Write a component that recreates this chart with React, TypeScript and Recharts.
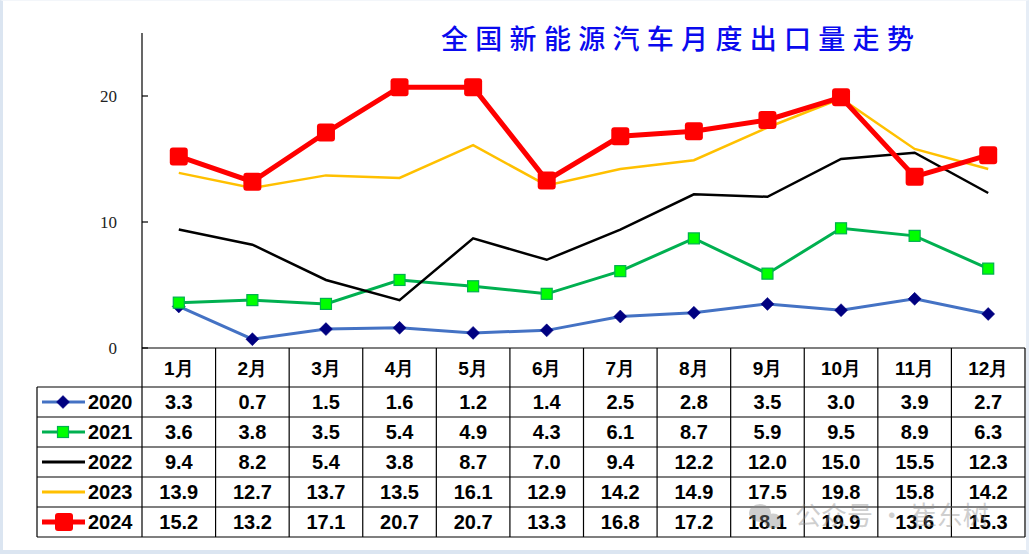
import React from 'react';
import { LineChart, Line, XAxis, YAxis } from 'recharts';

const months = ['1月', '2月', '3月', '4月', '5月', '6月', '7月', '8月', '9月', '10月', '11月', '12月'];
const y2020 = [3.3, 0.7, 1.5, 1.6, 1.2, 1.4, 2.5, 2.8, 3.5, 3.0, 3.9, 2.7];
const y2021 = [3.6, 3.8, 3.5, 5.4, 4.9, 4.3, 6.1, 8.7, 5.9, 9.5, 8.9, 6.3];
const y2022 = [9.4, 8.2, 5.4, 3.8, 8.7, 7.0, 9.4, 12.2, 12.0, 15.0, 15.5, 12.3];
const y2023 = [13.9, 12.7, 13.7, 13.5, 16.1, 12.9, 14.2, 14.9, 17.5, 19.8, 15.8, 14.2];
const y2024 = [15.2, 13.2, 17.1, 20.7, 20.7, 13.3, 16.8, 17.2, 18.1, 19.9, 13.6, 15.3];
const yTicks = [0, 10, 20];
const title = '全国新能源汽车月度出口量走势';

const seriesList = [
  { key: '2020', values: y2020, color: '#4472C4', marker: 'diamond' },
  { key: '2021', values: y2021, color: '#00B050', marker: 'square' },
  { key: '2022', values: y2022, color: '#000000', marker: 'none' },
  { key: '2023', values: y2023, color: '#FFC000', marker: 'none' },
  { key: '2024', values: y2024, color: '#FF0000', marker: 'big' },
];

const data = months.map((m, i) => ({
  month: m,
  '2020': y2020[i],
  '2021': y2021[i],
  '2022': y2022[i],
  '2023': y2023[i],
  '2024': y2024[i],
}));

const W = 1029;
const H = 554;
const PL = 142;
const PR = 1025;
const PT = 33;
const PB = 348;

const Diamond = (props: any) => {
  const { cx, cy } = props;
  if (cx == null || cy == null) return null;
  const r = 6.5;
  return <path d={`M${cx},${cy - r}L${cx + r},${cy}L${cx},${cy + r}L${cx - r},${cy}Z`} fill="#000080" stroke="#000080" strokeWidth={0.5} />;
};
const GreenSq = (props: any) => {
  const { cx, cy } = props;
  if (cx == null || cy == null) return null;
  const s = 11;
  return <rect x={cx - s / 2} y={cy - s / 2} width={s} height={s} fill="#00FF00" stroke="#00B050" strokeWidth={1.2} />;
};
const RedSq = (props: any) => {
  const { cx, cy } = props;
  if (cx == null || cy == null) return null;
  const s = 18;
  return <rect x={cx - s / 2} y={cy - s / 2} width={s} height={s} rx={3} ry={3} fill="#FF0000" />;
};

const colW = (PR - PL) / 12;
const rowTop = 387;
const rowH = 30;
const legL = 37;
const font = "'Liberation Sans', Arial, sans-serif";

function Table() {
  const lines: React.ReactNode[] = [];
  lines.push(<line key="h0" x1={PL} x2={PR} y1={PB} y2={PB} stroke="#000" strokeWidth={1.2} />);
  for (let r = 0; r <= 5; r++) {
    const y = rowTop + r * rowH;
    lines.push(<line key={'h' + (r + 1)} x1={legL} x2={PR} y1={y} y2={y} stroke="#000" strokeWidth={1.2} />);
  }
  lines.push(<line key="vL" x1={legL} x2={legL} y1={rowTop} y2={rowTop + 5 * rowH} stroke="#000" strokeWidth={1.2} />);
  for (let c = 0; c <= 12; c++) {
    const x = PL + c * colW;
    lines.push(<line key={'v' + c} x1={x} x2={x} y1={PB} y2={rowTop + 5 * rowH} stroke="#000" strokeWidth={1.2} />);
  }
  const texts: React.ReactNode[] = [];
  months.forEach((m, i) => {
    texts.push(
      <text key={'m' + i} x={PL + colW * (i + 0.5)} y={(PB + rowTop) / 2 + 7} textAnchor="middle" fontFamily={font} fontWeight="bold" fontSize={19} fill="#000">{m}</text>
    );
  });
  seriesList.forEach((s, r) => {
    const cy = rowTop + rowH * (r + 0.5);
    s.values.forEach((v, i) => {
      texts.push(
        <text key={s.key + i} x={PL + colW * (i + 0.5)} y={cy + 7} textAnchor="middle" fontFamily={font} fontWeight="bold" fontSize={20} fill="#000">{v.toFixed(1)}</text>
      );
    });
    const lw = s.marker === 'big' ? 5 : 3;
    texts.push(<line key={'ll' + r} x1={42} x2={85} y1={cy} y2={cy} stroke={s.color} strokeWidth={lw} />);
    if (s.marker === 'diamond') texts.push(<Diamond key={'lm' + r} cx={63} cy={cy} />);
    if (s.marker === 'square') texts.push(<GreenSq key={'lm' + r} cx={63} cy={cy} />);
    if (s.marker === 'big') texts.push(<RedSq key={'lm' + r} cx={64} cy={cy} />);
    texts.push(
      <text key={'lt' + r} x={88} y={cy + 7} fontFamily={font} fontWeight="bold" fontSize={20} fill="#000">{s.key}</text>
    );
  });
  return (
    <svg width={W} height={H} style={{ position: 'absolute', left: 0, top: 0, pointerEvents: 'none' }}>
      {lines}
      {texts}
      <g opacity={0.4}>
        <ellipse cx={760} cy={513} rx={11} ry={9} fill="#888" />
        <ellipse cx={773} cy={521} rx={9} ry={7.5} fill="#888" />
        <text x={795} y={525} fontFamily="'Noto Sans CJK SC', sans-serif" fontSize={26} fill="#888">公众号 · 崔东树</text>
      </g>
    </svg>
  );
}

export default function App() {
  return (
    <div style={{ position: 'absolute', left: 0, top: 0, width: W, height: H, background: '#fff', overflow: 'hidden' }}>
      <div style={{ position: 'absolute', left: 0, top: 0, width: W, height: H, boxSizing: 'border-box', borderLeft: '3px solid #dbe5f1', borderRight: '3px solid #e6edf6', borderBottom: '4px solid #dbe5f1', borderTop: '1px solid #f3f6fa' }} />
      <LineChart width={W} height={H} data={data} margin={{ top: PT, right: W - PR, bottom: H - PB, left: 0 }}>
        <XAxis dataKey="month" hide padding={{ left: colW / 2, right: colW / 2 }} />
        <YAxis
          width={PL}
          domain={[0, 25]}
          ticks={yTicks}
          tickSize={-6}
          tickMargin={31}
          axisLine={{ stroke: '#000', strokeWidth: 1.2 }}
          tickLine={{ stroke: '#000', strokeWidth: 1.2 }}
          tick={{ fill: '#222', fontSize: 17, fontFamily: "'Liberation Serif', 'DejaVu Serif', serif" }}
          interval={0}
        />
        <Line dataKey="2020" stroke="#4472C4" strokeWidth={3} dot={<Diamond />} activeDot={false} isAnimationActive={false} />
        <Line dataKey="2021" stroke="#00B050" strokeWidth={3} dot={<GreenSq />} activeDot={false} isAnimationActive={false} />
        <Line dataKey="2022" stroke="#000000" strokeWidth={2.5} dot={false} activeDot={false} isAnimationActive={false} />
        <Line dataKey="2023" stroke="#FFC000" strokeWidth={2.5} dot={false} activeDot={false} isAnimationActive={false} />
        <Line dataKey="2024" stroke="#FF0000" strokeWidth={5} dot={<RedSq />} activeDot={false} isAnimationActive={false} />
      </LineChart>
      <div style={{ position: 'absolute', left: 441, top: 20, fontFamily: "'Noto Sans CJK SC', sans-serif", fontSize: 27, fontWeight: 500, color: '#0a0aee', letterSpacing: 7.3, whiteSpace: 'nowrap', lineHeight: '36px' }}>
        {title}
      </div>
      <Table />
    </div>
  );
}
